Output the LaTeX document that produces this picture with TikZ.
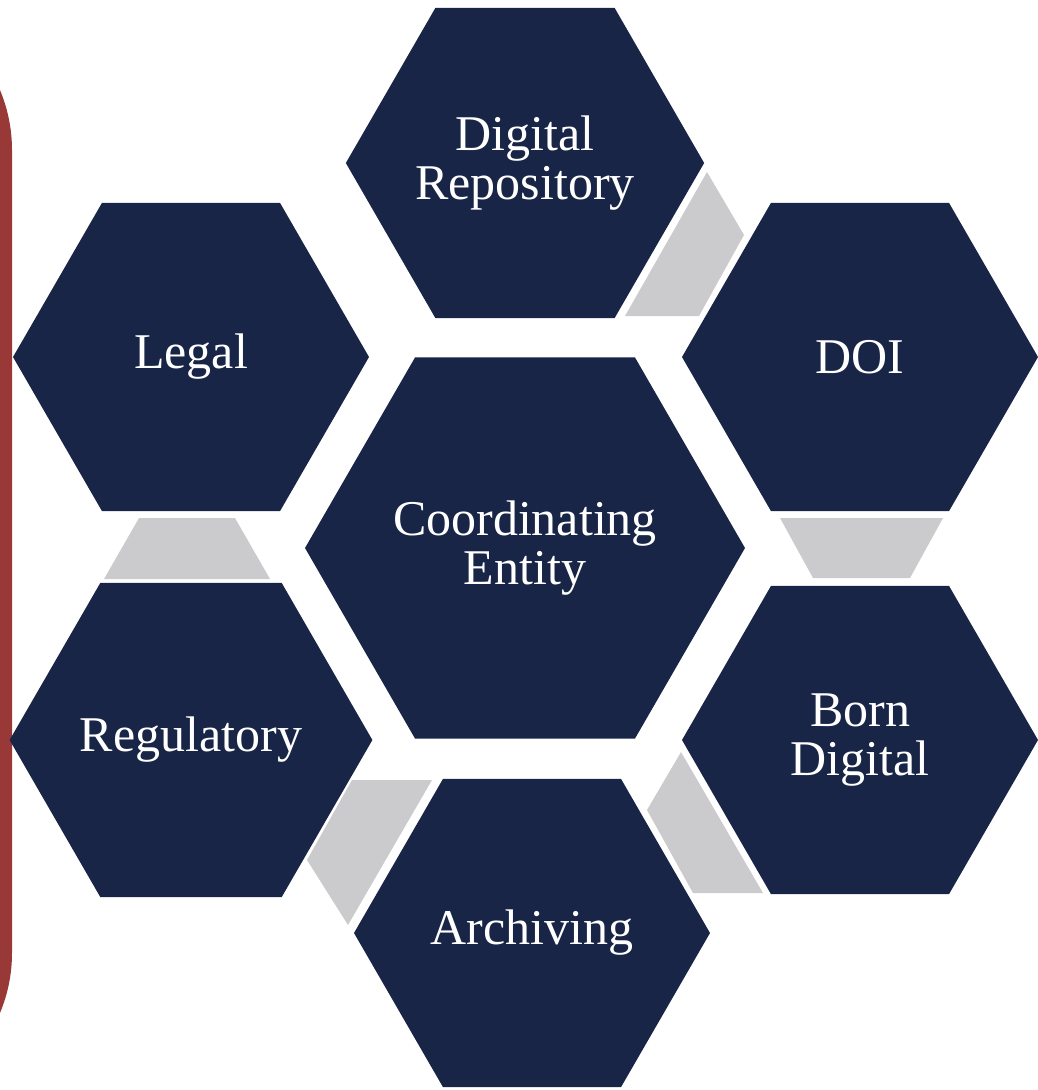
\documentclass[tikz,border=0pt]{standalone}
\usepackage{fontspec}
\setmainfont{Liberation Serif}
\usetikzlibrary{shapes.geometric}
\definecolor{hexnavy}{RGB}{24,37,70}
\definecolor{linkgrey}{RGB}{203,203,205}
\definecolor{barred}{RGB}{152,57,56}

\begin{document}
\begin{tikzpicture}[x=1pt,y=-1pt]
% Define hexagon styles
\tikzstyle{hex} = [regular polygon, regular polygon sides=6, fill=hexnavy, text=white, inner sep=0pt, outer sep=0pt, minimum size=356pt, align=center, font=\fontsize{50}{49}\selectfont]
\tikzstyle{bighex} = [hex, minimum size=440pt]
\tikzstyle{link} = [fill=linkgrey]
\useasboundingbox (0,0) rectangle (1038,1090);
% Side bar
\fill[barred, rounded corners=155pt] (-300,-5) rectangle (12,1108);
% Define nodes (hexagons)
\node[bighex] (Coordinating) at (525,548) {Coordinating\\Entity};
\node[hex] (DigitalRepo) at (525,163) {Digital\\Repository};
\node[hex] (Legal) at (191,357) {Legal};
\node[hex] (DOI) at (860,357) {DOI};
\node[hex] (Regulatory) at (191,740) {Regulatory};
\node[hex] (BornDigital) at (860,740) {Born\\Digital};
\node[hex] (Archiving) at (532,933) {Archiving};
% Grey links between outer hexagons
\fill[link] (707,172) -- (744,235) -- (699,316) -- (625,316) -- cycle;
\fill[link] (780,518) -- (943,518) -- (910,578) -- (813,578) -- cycle;
\fill[link] (681,752) -- (647,810) -- (693,893) -- (763,893) -- cycle;
\fill[link] (352,780) -- (432,780) -- (348,925) -- (307,860) -- cycle;
\fill[link] (139,518) -- (235,518) -- (270,579) -- (104,579) -- cycle;
\end{tikzpicture}
\end{document}
